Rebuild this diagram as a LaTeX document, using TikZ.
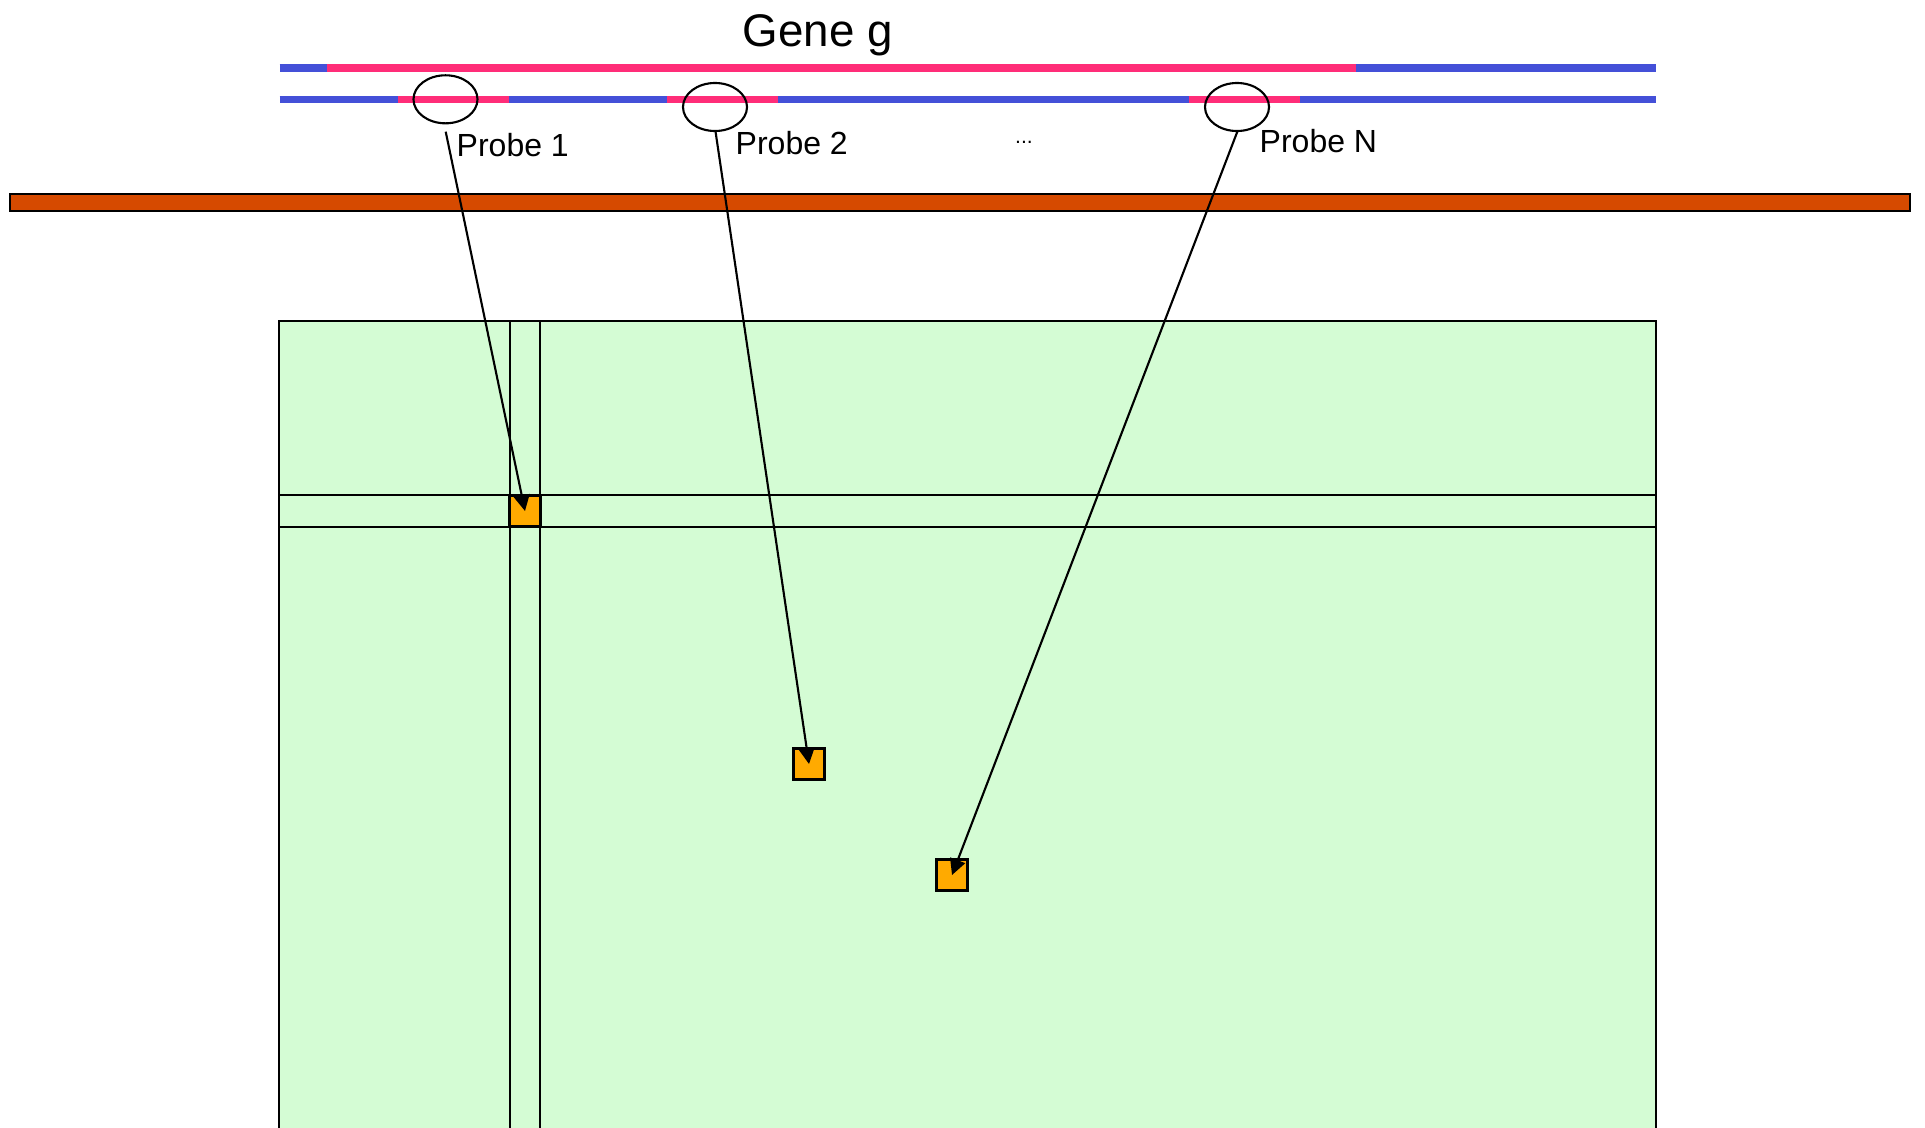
\documentclass[tikz,border=0pt]{standalone}
\usepackage{fontspec}
\setmainfont{Liberation Sans}
\usetikzlibrary{arrows.meta,shapes.geometric}
\definecolor{strandblue}{HTML}{4450D8}
\definecolor{genepink}{HTML}{FF2D78}
\definecolor{barorange}{HTML}{D64A00}
\definecolor{chipgreen}{HTML}{D4FCD4}
\definecolor{spotorange}{HTML}{FFAA00}
\begin{document}
\begin{tikzpicture}[x=0.01cm,y=-0.01cm,
  strand/.style={line width=2pt, strandblue},
  genepart/.style={line width=2pt, genepink},
  probering/.style={draw, ellipse, line width=0.6pt, minimum width=0.64cm, minimum height=0.48cm, inner sep=0pt},
  spot/.style={draw, fill=spotorange, line width=0.7pt, minimum size=0.31cm, inner sep=0pt},
  link/.style={line width=0.6pt, -{Triangle[length=4.5pt,width=4.5pt]}},
  probelabel/.style={font=\fontsize{9.1}{11}\selectfont, anchor=base west, inner sep=0pt},
  gridline/.style={line width=0.6pt, black}]
\useasboundingbox (0,0) rectangle (1925,1127);
\clip (0,0) rectangle (1925,1127);
% strands
\draw[strand] (279.6,68) -- (1656,68);
\draw[genepart] (327,68) -- (1355.5,68);
\draw[strand] (279.6,99.3) -- (1656,99.3);
\draw[genepart] (398,99.3) -- (508.7,99.3);
\draw[genepart] (667,99.3) -- (778,99.3);
\draw[genepart] (1189.4,99.3) -- (1300,99.3);
% probe rings
\node[probering] (r1) at (445.5,99.3) {};
\node[probering] (r2) at (715,107) {};
\node[probering] (rN) at (1237,107) {};
% labels
\node[font=\fontsize{13}{15}\selectfont, anchor=base west, inner sep=0pt] (gene) at (742,47) {Gene g};
\node[probelabel] (l1) at (456,156) {Probe 1};
\node[probelabel] (l2) at (735,154) {Probe 2};
\node[probelabel] (lN) at (1259,152) {Probe N};
\node[font=\fontsize{6}{7}\selectfont, anchor=base, inner sep=0pt] (dots) at (1024,143) {...};
% bar
\draw[fill=barorange, line width=0.6pt] (10,194) rectangle (1910,211);
% chip
\draw[fill=chipgreen, line width=0.6pt] (279.3,320.7) rectangle (1656,1200);
\draw[gridline] (510,320.7) -- (510,1200);
\draw[gridline] (540,320.7) -- (540,1200);
\draw[gridline] (279.3,495) -- (1656,495);
\draw[gridline] (279.3,527) -- (1656,527);
% spots
\node[spot] (s1) at (525,511) {};
\node[spot] (s2) at (809,764) {};
\node[spot] (s3) at (952,875) {};
% connectors
\coordinate (c1) at (445.7,131.7);
\coordinate (c2) at (715.4,130.7);
\coordinate (cN) at (1237.3,131.7);
\draw[link] (c1) -- (s1.center);
\draw[link] (c2) -- (s2.center);
\draw[link] (cN) -- (s3.center);
\end{tikzpicture}
\end{document}
